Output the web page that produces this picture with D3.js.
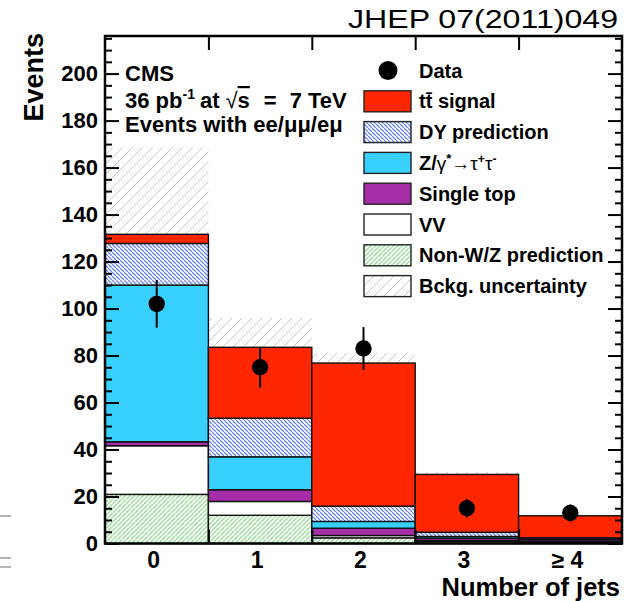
<!DOCTYPE html>
<html>
<head>
<meta charset="utf-8">
<script src="https://cdn.jsdelivr.net/npm/d3@7"></script>
<style>
  body { margin: 0; background: #fff; }
  svg { display: block; }
  text { font-family: "Liberation Sans", Arial, Helvetica, sans-serif; }
</style>
</head>
<body>
<svg id="chart" width="635" height="601"></svg>
<script>
// Jet multiplicity in dilepton events: stacked predictions and data
const categories = ["0", "1", "2", "3", "\u2265 4"];
const nonWZ        = [20.9, 12.0, 2.4, 0.8, 0.5];
const diboson      = [20.7, 5.9, 1.0, 0.5, 0.3];
const singleTop    = [1.7, 5.0, 3.1, 1.0, 0.8];
const zTauTau      = [66.7, 14.0, 2.9, 0.7, 0.3];
const dyPrediction = [17.7, 16.4, 6.5, 1.8, 0.5];
const ttSignal     = [3.9, 30.2, 60.9, 24.6, 9.4];
const bkgUncertainty = [37.0, 12.5, 4.2, 1.0, 0.5];
const dataCounts = [102, 75, 83, 15, 13];
const dataErrors = [10.1, 8.7, 9.1, 3.9, 3.6];
const yTickValues = [0, 20, 40, 60, 80, 100, 120, 140, 160, 180, 200];
const yMax = 216;

const svg = d3.select("#chart");
const plotLeft = 105, plotRight = 622, plotTop = 36, plotBottom = 543.5;

const x = d3.scaleBand().domain(categories).range([plotLeft, plotRight]).padding(0);
const xEdge = d3.scaleLinear().domain([0, categories.length]).range([plotLeft, plotRight]);
const y = d3.scaleLinear().domain([0, yMax]).range([plotBottom, plotTop]);

// hatch fills
const defs = svg.append("defs");
function hatch(id, size, color, width, dir, bg) {
  const p = defs.append("pattern").attr("id", id)
    .attr("patternUnits", "userSpaceOnUse")
    .attr("width", size).attr("height", size);
  if (bg) p.append("rect").attr("width", size).attr("height", size).attr("fill", bg);
  const d = dir === "/"
    ? `M0,${size} L${size},0 M${-size},${size} L0,0 M${size},${2*size} L${2*size},${size}`
    : `M0,0 L${size},${size} M${-size},0 L0,${size} M${size},${-size} L${2*size},${size}`;
  p.append("path").attr("d", d).attr("stroke", color).attr("stroke-width", width).attr("fill", "none");
}
hatch("dyHatch", 4, "#6d86ff", 1.3, "\\", "#ffffff");
hatch("nonwzHatch", 4.5, "#8fd68f", 1.3, "/", "#ffffff");
hatch("uncHatch", 10, "#c8c8c8", 1, "/", null);

const seriesDefs = [
  { key: "nonWZ", values: nonWZ, fill: "url(#nonwzHatch)", label: "Non-W/Z prediction" },
  { key: "vv", values: diboson, fill: "#ffffff", label: "VV" },
  { key: "stop", values: singleTop, fill: "#a52ea8", label: "Single top" },
  { key: "ztt", values: zTauTau, fill: "#38d0ff", label: "Z/\u03b3*\u2192\u03c4\u207a\u03c4\u207b" },
  { key: "dy", values: dyPrediction, fill: "url(#dyHatch)", label: "DY prediction" },
  { key: "tt", values: ttSignal, fill: "#ff2600", label: "tt\u0304 signal" }
];

const table = categories.map((c, i) => {
  const row = { cat: c };
  seriesDefs.forEach(s => row[s.key] = s.values[i]);
  return row;
});
const stacked = d3.stack().keys(seriesDefs.map(s => s.key))(table);
const totals = table.map(r => seriesDefs.reduce((a, s) => a + r[s.key], 0));

// background uncertainty band
svg.append("g").selectAll("rect").data(categories).join("rect")
  .attr("x", c => x(c))
  .attr("width", x.bandwidth())
  .attr("y", (c, i) => y(totals[i] + bkgUncertainty[i]))
  .attr("height", (c, i) => y(totals[i] - bkgUncertainty[i]) - y(totals[i] + bkgUncertainty[i]))
  .attr("fill", "url(#uncHatch)");

// stacked components
svg.append("g").selectAll("g").data(stacked).join("g")
  .attr("fill", (d, i) => seriesDefs[i].fill)
  .selectAll("rect").data(d => d).join("rect")
  .attr("x", d => x(d.data.cat))
  .attr("width", x.bandwidth())
  .attr("y", d => y(d[1]))
  .attr("height", d => y(d[0]) - y(d[1]))
  .attr("stroke", "#111")
  .attr("stroke-width", 1.4);

// data points with statistical errors
const dataG = svg.append("g");
dataG.selectAll("line").data(categories).join("line")
  .attr("x1", c => x(c) + x.bandwidth() / 2)
  .attr("x2", c => x(c) + x.bandwidth() / 2)
  .attr("y1", (c, i) => y(dataCounts[i] - dataErrors[i]))
  .attr("y2", (c, i) => y(dataCounts[i] + dataErrors[i]))
  .attr("stroke", "#000").attr("stroke-width", 2);
dataG.selectAll("circle").data(categories).join("circle")
  .attr("cx", c => x(c) + x.bandwidth() / 2)
  .attr("cy", (c, i) => y(dataCounts[i]))
  .attr("r", 8.2).attr("fill", "#000");

// axes
const minorY = d3.range(0, yMax + 1, 5).filter(v => v % 20 !== 0);
function styleAxis(g) { g.select(".domain").remove(); g.selectAll("line").attr("stroke", "#000").attr("stroke-width", 2); }
function styleLabels(g) {
  g.selectAll("text").attr("font-size", 22).attr("font-weight", "bold").attr("fill", "#000")
    .attr("font-family", '"Liberation Sans", Arial, sans-serif');
}

svg.append("g").attr("transform", `translate(${plotLeft},0)`)
  .call(d3.axisLeft(y).tickValues(yTickValues).tickSize(-14).tickPadding(7))
  .call(styleAxis).call(styleLabels);
svg.append("g").attr("transform", `translate(${plotLeft},0)`)
  .call(d3.axisLeft(y).tickValues(minorY).tickSize(-7).tickFormat(""))
  .call(styleAxis);
svg.append("g").attr("transform", `translate(${plotRight},0)`)
  .call(d3.axisRight(y).tickValues(yTickValues).tickSize(-14).tickFormat(""))
  .call(styleAxis);
svg.append("g").attr("transform", `translate(${plotRight},0)`)
  .call(d3.axisRight(y).tickValues(minorY).tickSize(-7).tickFormat(""))
  .call(styleAxis);
const innerEdges = d3.range(1, categories.length);
svg.append("g").attr("transform", `translate(0,${plotBottom})`)
  .call(d3.axisBottom(xEdge).tickValues(innerEdges).tickSize(-14).tickFormat(""))
  .call(styleAxis);
svg.append("g").attr("transform", `translate(0,${plotTop})`)
  .call(d3.axisTop(xEdge).tickValues(innerEdges).tickSize(-14).tickFormat(""))
  .call(styleAxis);
svg.append("g").attr("transform", `translate(-3,${plotBottom})`)
  .call(d3.axisBottom(x).tickSize(0).tickPadding(8))
  .call(g => g.select(".domain").remove())
  .call(styleLabels)
  .call(g => g.selectAll("text").attr("font-size", 23));

// frame
svg.append("rect").attr("x", plotLeft).attr("y", plotTop)
  .attr("width", plotRight - plotLeft).attr("height", plotBottom - plotTop)
  .attr("fill", "none").attr("stroke", "#000").attr("stroke-width", 2.5);

// axis titles
svg.append("text").attr("transform", "translate(43,33) rotate(-90)")
  .attr("text-anchor", "end").attr("font-size", 27).attr("font-weight", "bold").text("Events");
svg.append("text").attr("x", 620).attr("y", 596).attr("text-anchor", "end")
  .attr("font-size", 25.5).attr("font-weight", "bold").text("Number of jets");

// journal reference
svg.append("text").attr("x", 348).attr("y", 28).attr("font-size", 25)
  .attr("textLength", 270).attr("lengthAdjust", "spacingAndGlyphs").text("JHEP 07(2011)049");

// CMS labels
const info = svg.append("g").attr("font-weight", "bold").attr("font-size", 22);
info.append("text").attr("x", 125).attr("y", 81).text("CMS");
const l2 = info.append("text").attr("x", 125).attr("y", 108);
l2.append("tspan").text("36 pb");
l2.append("tspan").attr("font-size", 14).attr("dy", -9).text("-1");
l2.append("tspan").attr("dy", 9).attr("dx", 5).text("at");
l2.append("tspan").attr("font-weight", "normal").attr("dx", 6).text("\u221a");
l2.append("tspan").attr("text-decoration", "overline").text("s");
l2.append("tspan").attr("dx", 14).text("=");
l2.append("tspan").attr("dx", 13).text("7");
l2.append("tspan").attr("dx", 6).text("TeV");
info.append("text").attr("x", 125).attr("y", 132).text("Events with ee/\u03bc\u03bc/e\u03bc");

// legend
const legend = svg.append("g").attr("font-size", 20).attr("font-weight", "bold");
const rowY = i => 70.5 + i * 30.8;
legend.append("circle").attr("cx", 388).attr("cy", rowY(0)).attr("r", 9.5).attr("fill", "#000");
legend.append("text").attr("x", 419).attr("y", rowY(0) + 7).text("Data");
const legendEntries = seriesDefs.slice().reverse().concat([{ key: "unc", fill: "url(#uncHatch)", label: "Bckg. uncertainty" }]);
legendEntries.forEach((s, i) => {
  const cy = rowY(i + 1);
  if (s.key === "unc") {
    legend.append("rect").attr("x", 364).attr("y", cy - 10.5).attr("width", 47).attr("height", 21).attr("fill", "#fff");
  }
  legend.append("rect").attr("x", 364).attr("y", cy - 10.5).attr("width", 47).attr("height", 21)
    .attr("fill", s.fill).attr("stroke", "#222").attr("stroke-width", 1.4);
  const t = legend.append("text").attr("x", 419).attr("y", cy + 7);
  if (s.key === "ztt") {
    t.append("tspan").text("Z/");
    t.append("tspan").attr("font-weight", "normal").attr("font-size", 19).text("\u03b3");
    t.append("tspan").attr("font-size", 13).attr("dy", -7).text("*");
    t.append("tspan").attr("font-weight", "normal").attr("font-size", 19).attr("dy", 7).text("\u2192\u03c4");
    t.append("tspan").attr("font-size", 12).attr("dy", -7).text("+");
    t.append("tspan").attr("font-weight", "normal").attr("font-size", 19).attr("dy", 7).text("\u03c4");
    t.append("tspan").attr("font-size", 12).attr("dy", -7).text("-");
  } else {
    t.text(s.label);
  }
});

// faint strokes at the left margin
svg.append("g").attr("stroke", "#b4b4b4").attr("stroke-width", 2)
  .selectAll("line").data([516, 558, 567]).join("line")
  .attr("x1", 0).attr("x2", 11).attr("y1", d => d).attr("y2", d => d);
</script>
</body>
</html>
